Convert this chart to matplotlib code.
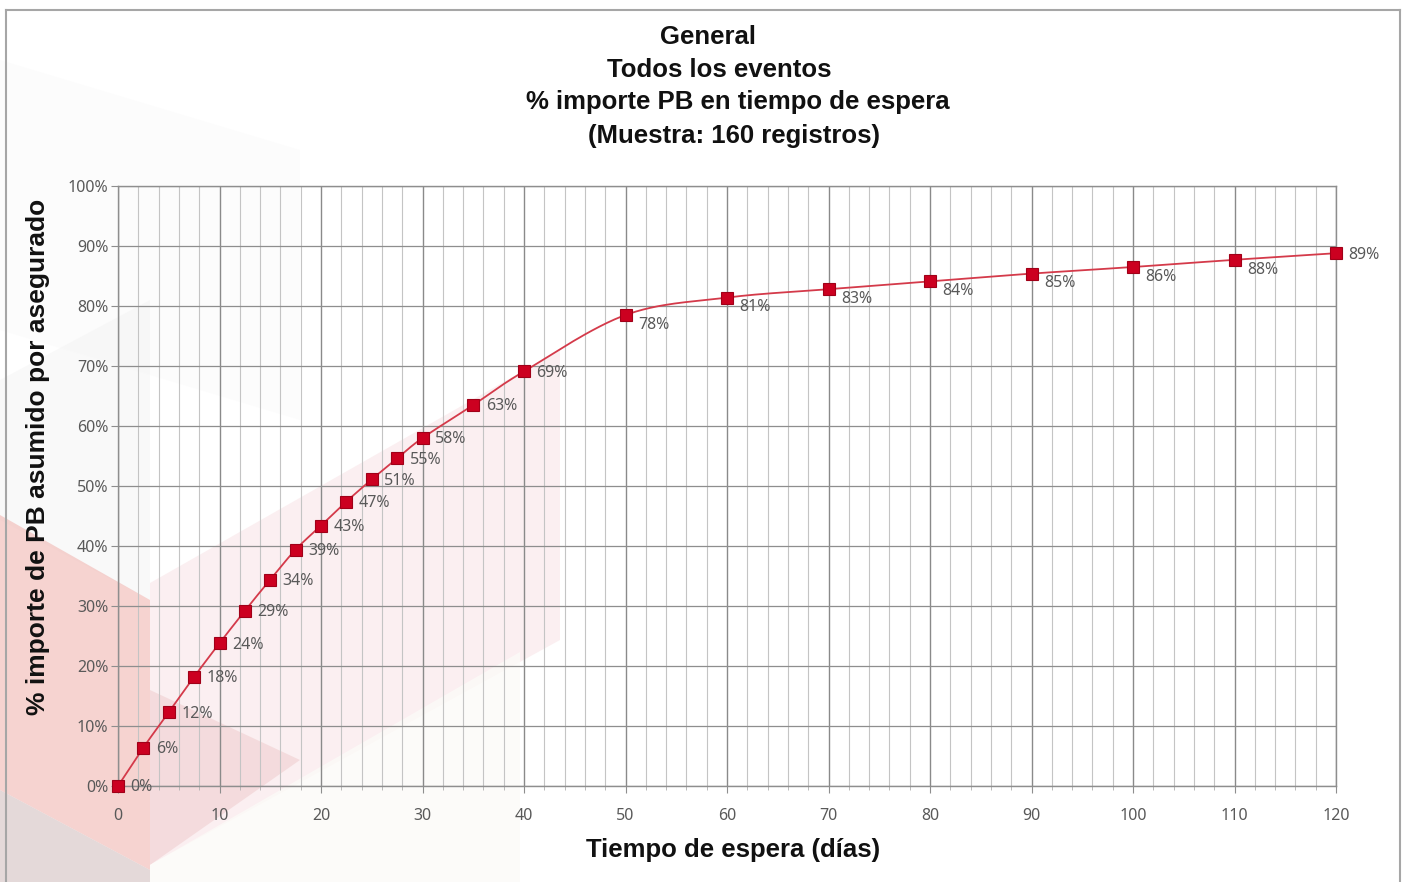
import numpy as np
import matplotlib
matplotlib.use("Agg")
import matplotlib.pyplot as plt
from matplotlib.patches import Polygon
from matplotlib.lines import Line2D
from matplotlib.ticker import MultipleLocator, FuncFormatter

# waiting time (days) and cumulative % of PB amount
dias = [0, 2.5, 5, 7.5, 10, 12.5, 15, 17.5, 20, 22.5, 25, 27.5, 30,
        35, 40, 50, 60, 70, 80, 90, 100, 110, 120]
porcentaje = [0.0, 6.4, 12.3, 18.2, 23.8, 29.2, 34.4, 39.4, 43.4, 47.4,
              51.1, 54.6, 58.0, 63.5, 69.1, 78.5, 81.4, 82.8, 84.1, 85.4,
              86.5, 87.7, 88.8]
etiquetas = ["0%", "6%", "12%", "18%", "24%", "29%", "34%", "39%", "43%",
             "47%", "51%", "55%", "58%", "63%", "69%", "78%", "81%", "83%",
             "84%", "85%", "86%", "88%", "89%"]

titulo = ["General", "Todos los eventos", "% importe PB en tiempo de espera",
          "(Muestra: 160 registros)"]
xlabel = "Tiempo de espera (días)"
ylabel = "% importe de PB asumido por asegurado"

W, H = 1406, 882


def px(x, y):
    # pixel coords (top-left origin) -> figure fraction
    return x / W, 1 - y / H


# excel-like smoothed line (bezier through the points)
def smooth(xs, ys, n=30):
    P = np.column_stack([np.asarray(xs, float), np.asarray(ys, float)])
    out = [P[0]]
    for i in range(len(P) - 1):
        p0 = P[i - 1] if i > 0 else P[i]
        p1 = P[i]
        p2 = P[i + 1]
        p3 = P[i + 2] if i + 2 < len(P) else P[i + 1]
        c1 = p1 + (p2 - p0) / 6.0
        c2 = p2 - (p3 - p1) / 6.0
        t = np.linspace(0, 1, n)[1:, None]
        seg = ((1 - t) ** 3) * p1 + 3 * ((1 - t) ** 2) * t * c1 \
            + 3 * (1 - t) * t ** 2 * c2 + t ** 3 * p2
        out.extend(seg)
    out = np.array(out)
    return out[:, 0], out[:, 1]


fig = plt.figure(figsize=(W / 100, H / 100), dpi=100)
fig.patch.set_facecolor("white")

# faint background decoration (behind the axes)
fondo = [
    ([(0, 380), (150, 300), (150, 600), (0, 520)], "#ececec", 0.3),
    ([(0, 60), (300, 150), (300, 420), (0, 330)], "#f5f5f5", 0.25),
    ([(150, 583), (560, 350), (560, 640), (150, 865)], "#f7dde0", 0.45),
    ([(0, 515), (150, 600), (150, 870), (0, 790)], "#f2bcb8", 0.65),
    ([(150, 690), (300, 760), (150, 865)], "#e8b8b8", 0.35),
    ([(0, 790), (150, 870), (150, 882), (0, 882)], "#d2c0c0", 0.6),
    ([(150, 865), (150, 882), (520, 882), (520, 652)], "#fcfbf8", 0.8),
]
for pts, col, a in fondo:
    fig.patches.append(Polygon([px(*p) for p in pts], closed=True,
                               transform=fig.transFigure, facecolor=col,
                               edgecolor="none", alpha=a, zorder=-5))

# outer chart border
for (x0, y0), (x1, y1) in [((6, 882), (6, 10)), ((6, 10), (1400, 10)),
                           ((1400, 10), (1400, 882))]:
    a, b = px(x0, y0)
    c, d = px(x1, y1)
    fig.lines.append(Line2D([a, c], [b, d], transform=fig.transFigure,
                            color="#a6a6a6", lw=1.5, zorder=-4))

ax = fig.add_axes([118 / W, 1 - 786 / H, (1336 - 118) / W, 600 / H])
ax.set_zorder(2)
ax.patch.set_alpha(0)
ax.set_xlim(0, 120)
ax.set_ylim(0, 100)

ax.xaxis.set_major_locator(MultipleLocator(10))
ax.xaxis.set_minor_locator(MultipleLocator(2))
ax.yaxis.set_major_locator(MultipleLocator(10))
ax.yaxis.set_major_formatter(FuncFormatter(lambda v, p: "%d%%" % v))

ax.grid(True, which="major", axis="x", color="#8a8a8a", lw=1.0)
ax.grid(True, which="minor", axis="x", color="#c4c4c4", lw=0.8)
ax.grid(True, which="major", axis="y", color="#8e8e8e", lw=0.9)
ax.set_axisbelow(True)

for s in ax.spines.values():
    s.set_color("#8e8e8e")
    s.set_linewidth(1.0)

ax.tick_params(axis="both", which="major", length=5, color="#8e8e8e",
               labelcolor="#595959", labelsize=11.5)
ax.tick_params(axis="y", which="major", pad=2)
ax.tick_params(axis="x", which="major", pad=11)
ax.tick_params(axis="x", which="minor", length=3, color="#b0b0b0")
for lab in ax.get_xticklabels() + ax.get_yticklabels():
    lab.set_family("Noto Sans")

sx, sy = smooth(dias, porcentaje)
ax.plot(sx, sy, color="#d43a4a", lw=1.3, zorder=3, clip_on=False)
ax.plot(dias, porcentaje, ls="none", marker="s", markersize=8.5,
        markerfacecolor="#cc0020", markeredgecolor="#a00018",
        markeredgewidth=0.8, zorder=4, clip_on=False)

for x, y, t in zip(dias, porcentaje, etiquetas):
    dy = -7 if 50 <= x < 120 else -1
    ax.annotate(t, (x, y), xytext=(9, dy), textcoords="offset points",
                ha="left", va="center", fontsize=11.5, color="#595959",
                family="Noto Sans", zorder=5)

# title, one line at a time (excel centres them slightly differently)
centros = [(708, 37), (719, 70), (738, 102), (734, 136)]
for t, (cx, cy) in zip(titulo, centros):
    fx, fy = px(cx, cy)
    fig.text(fx, fy, t, ha="center", va="center", fontsize=18.5,
             fontweight="bold", family="Liberation Sans", color="#111111")

fx, fy = px(733, 850)
fig.text(fx, fy, xlabel, ha="center", va="center", fontsize=18.5,
         fontweight="bold", family="Liberation Sans", color="#111111")
fx, fy = px(38, 457)
fig.text(fx, fy, ylabel, ha="center", va="center", rotation=90,
         fontsize=19, fontweight="bold", family="Liberation Sans",
         color="#111111")

fig.savefig("out.png", dpi=100)
